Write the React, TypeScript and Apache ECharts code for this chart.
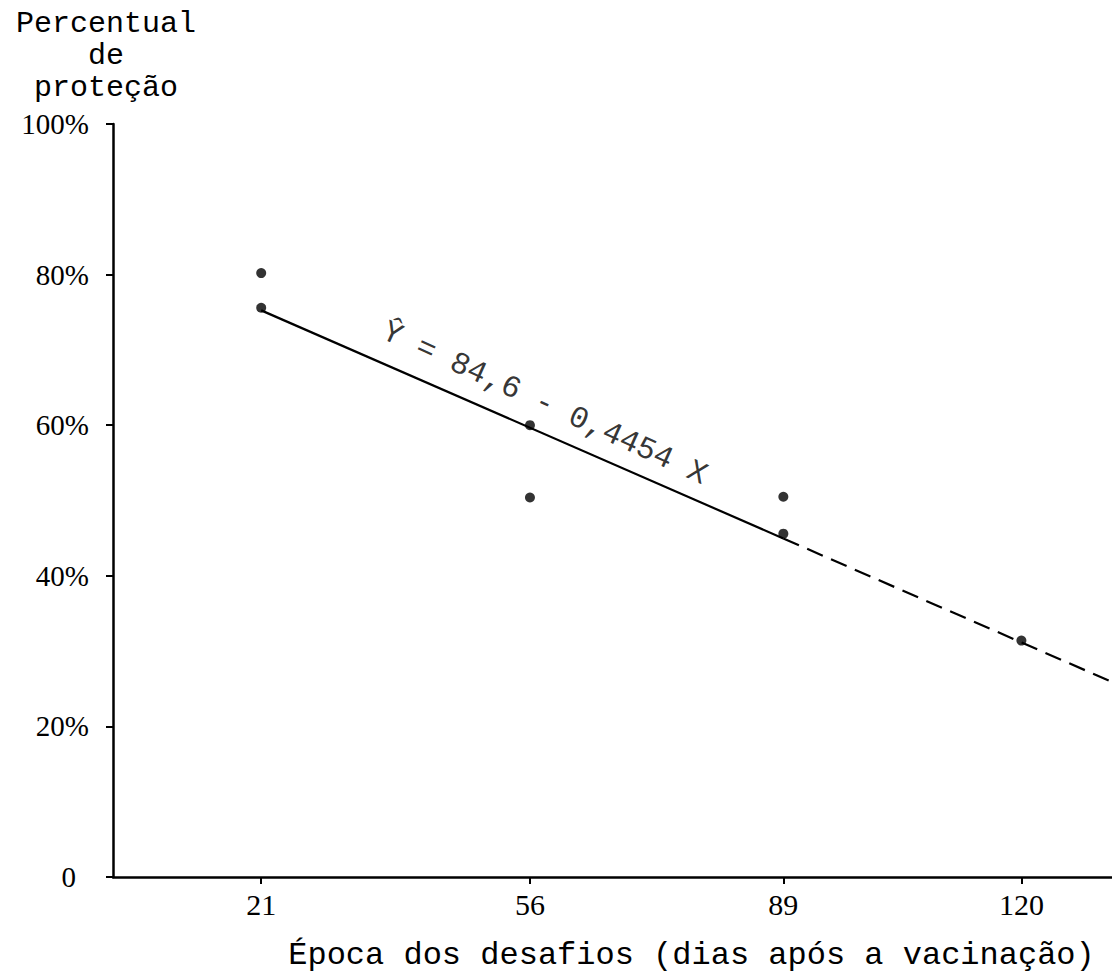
import React, { useEffect, useRef } from "react";
import * as echarts from "echarts";

const xTickValues = [21, 56, 89, 120];
const observed: number[][] = [
  [21, 80.2],
  [21, 75.6],
  [56, 60.0],
  [56, 50.4],
  [89, 50.5],
  [89, 45.6],
  [120, 31.4],
];
const fittedSolid: number[][] = [
  [21, 75.25],
  [89, 44.96],
];
const fittedDashed: number[][] = [
  [89, 44.96],
  [131.8, 25.9],
];
const equationText = "Ŷ = 84,6 - 0,4454 X";
const equationAnchor: number[][] = [[57.9, 62.9]];
const xTitle = "Época dos desafios (dias após a vacinação)";
const yTitle = "Percentual\nde\nproteção";

export default function App() {
  const ref = useRef<HTMLDivElement>(null);
  useEffect(() => {
    document.body.style.margin = "0";
    const chart = echarts.init(ref.current!, null, { renderer: "svg" });
    chart.setOption({
      animation: false,
      backgroundColor: "#ffffff",
      grid: { left: 113, right: 0, top: 124, bottom: 98 },
      xAxis: {
        type: "value",
        min: 1.7,
        max: 131.8,
        name: xTitle,
        nameLocation: "middle",
        nameGap: 62,
        nameTextStyle: {
          fontFamily: "Liberation Mono",
          fontSize: 32,
          color: "#000",
          padding: [0, 0, 0, 158],
        },
        axisLine: { show: true, lineStyle: { color: "#000", width: 2.5 } },
        axisTick: { show: true, customValues: xTickValues, length: 7, lineStyle: { color: "#000", width: 2 } },
        axisLabel: {
          customValues: xTickValues,
          margin: 12,
          fontFamily: "Liberation Serif",
          fontSize: 30,
          color: "#000",
        },
        splitLine: { show: false },
      },
      yAxis: {
        type: "value",
        min: 0,
        max: 100,
        interval: 20,
        name: yTitle,
        nameLocation: "end",
        nameGap: 20,
        nameTextStyle: {
          fontFamily: "Liberation Mono",
          fontSize: 30,
          lineHeight: 32,
          color: "#000",
          align: "center",
          padding: [0, 14, 0, 0],
        },
        axisLine: { show: true, lineStyle: { color: "#000", width: 2.5 } },
        axisTick: { show: true, length: 7, lineStyle: { color: "#000", width: 2 } },
        axisLabel: {
          margin: 24,
          fontFamily: "Liberation Serif",
          fontSize: 29,
          color: "#000",
          formatter: (v: number) => (v === 0 ? "{z|0}" : v + "%"),
          rich: {
            z: { fontFamily: "Liberation Serif", fontSize: 29, color: "#000", padding: [0, 13, 0, 0] },
          },
        },
        splitLine: { show: false },
      },
      series: [
        {
          name: "Reta ajustada",
          type: "line",
          data: fittedSolid,
          showSymbol: false,
          lineStyle: { color: "#000", width: 2.2 },
          z: 2,
        },
        {
          name: "Extrapolação",
          type: "line",
          data: fittedDashed,
          showSymbol: false,
          lineStyle: { color: "#000", width: 2.2, type: [17, 9] },
          z: 2,
        },
        {
          name: "Observado",
          type: "scatter",
          data: observed,
          symbol: "circle",
          symbolSize: 10,
          itemStyle: { color: "#000" },
          z: 3,
        },
        {
          name: "Equação",
          type: "scatter",
          data: equationAnchor,
          symbolSize: 0,
          silent: true,
          label: {
            show: true,
            position: "inside",
            formatter: equationText,
            rotate: -24.5,
            fontFamily: "Liberation Mono",
            fontSize: 31,
            color: "#000",
          },
          z: 4,
        },
      ],
    });
    return () => chart.dispose();
  }, []);
  return <div ref={ref} style={{ width: 1112, height: 976 }} />;
}
